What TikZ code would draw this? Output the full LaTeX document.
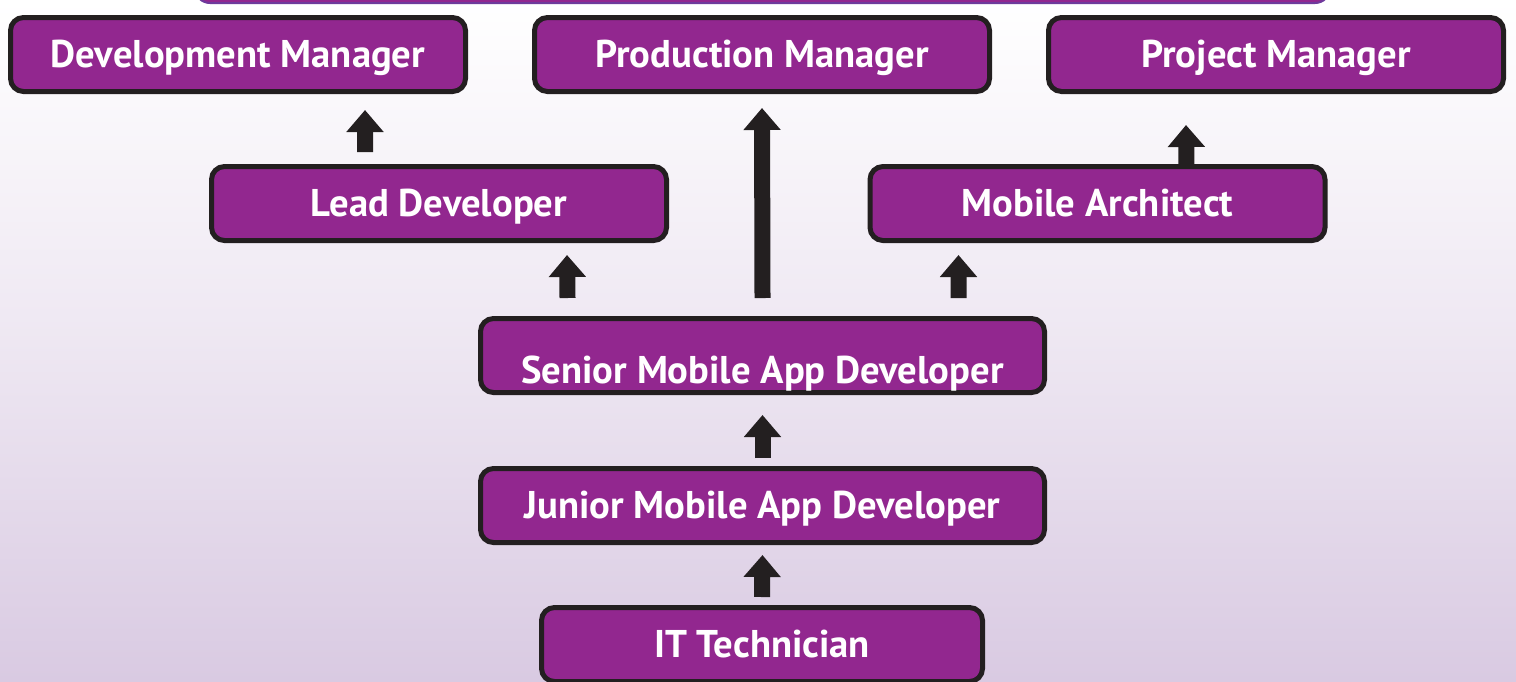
\documentclass[tikz,border=0pt]{standalone}
\usepackage{fontspec}
\setmainfont{PT Sans}
\usepackage{tikz}
\usetikzlibrary{arrows.meta}
\definecolor{rolepurple}{HTML}{92278F}
\definecolor{roleedge}{HTML}{231F20}
\definecolor{bgbottom}{HTML}{D9CAE2}
\definecolor{topedge}{HTML}{6E3A9C}

\begin{document}
\begin{tikzpicture}[x=1cm,y=1cm,
	role/.style={draw=roleedge,fill=rolepurple,line width=0.05cm,rounded corners=0.13cm,
		minimum width=4.55cm,minimum height=0.74cm,inner sep=0pt,
		text=white,font=\fontsize{11pt}{13pt}\selectfont\bfseries,
		text height=0.26cm,text depth=0pt},
	promo/.style={-{Triangle[width=0.36cm,length=0.22cm]},line width=0.16cm,color=roleedge}]
	\useasboundingbox (0,0) rectangle (15.16,-6.81);
	\shade[top color=white,bottom color=bgbottom,middle color=white!55!bgbottom] (0,0) rectangle (15.16,-6.81);
	\draw[fill=rolepurple,draw=topedge,line width=0.02cm,rounded corners=0.15cm] (1.95,0.5) rectangle (13.3,-0.03);

	\node[role] (devmgr)  at (2.38,-0.545) {Development Manager};
	\node[role] (prodmgr) at (7.62,-0.545) {Production Manager};
	\node[role] (projmgr) at (12.76,-0.545) {Project Manager};

	\node[role] (lead) at (4.39,-2.035) {Lead Developer};
	\node[role] (arch) at (10.975,-2.035) {Mobile Architect};

	\node[role,minimum width=5.64cm,text height=0.56cm] (senior) at (7.625,-3.555) {Senior Mobile App Developer};
	\node[role,minimum width=5.64cm] (junior) at (7.625,-5.055) {Junior Mobile App Developer};
	\node[role,minimum width=4.41cm] (tech) at (7.62,-6.445) {IT Technician};

	\path[promo]	([yshift=0.08cm]tech.north) edge ([yshift=-0.10cm]junior.south)
			([yshift=0.08cm]junior.north) edge ([yshift=-0.20cm]senior.south)

			([yshift=0.18cm]senior.north) edge ([yshift=-0.14cm]prodmgr.south)
			([xshift=-1.95cm,yshift=0.18cm]senior.north) edge ([xshift=1.28cm,yshift=-0.12cm]lead.south)
			([xshift=1.96cm,yshift=0.18cm]senior.north) edge ([xshift=-1.39cm,yshift=-0.12cm]arch.south)

			([xshift=-0.74cm,yshift=0.12cm]lead.north) edge ([xshift=1.27cm,yshift=-0.16cm]devmgr.south)
			([xshift=0.89cm,yshift=-0.04cm]arch.north) edge ([xshift=-0.90cm,yshift=-0.31cm]projmgr.south);
\end{tikzpicture}
\end{document}
